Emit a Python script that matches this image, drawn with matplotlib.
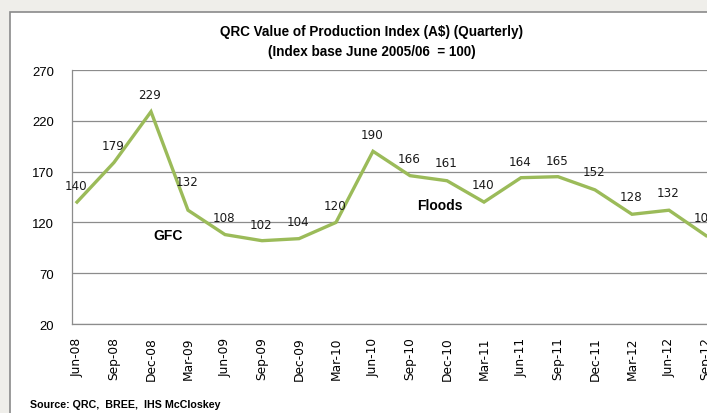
import matplotlib
matplotlib.use("Agg")
import matplotlib.pyplot as plt
from matplotlib.patches import Rectangle
from matplotlib import font_manager

quarters = ["Jun-08", "Sep-08", "Dec-08", "Mar-09", "Jun-09", "Sep-09", "Dec-09",
            "Mar-10", "Jun-10", "Sep-10", "Dec-10", "Mar-11", "Jun-11", "Sep-11",
            "Dec-11", "Mar-12", "Jun-12", "Sep-12"]
values = [140, 179, 229, 132, 108, 102, 104, 120, 190, 166, 161, 140, 164, 165,
          152, 128, 132, 107]
yticks = [20, 70, 120, 170, 220, 270]

# label offsets in points (dy)
label_dy = [12, 12, 12, 21, 12, 12, 12, 12, 12, 12, 13, 13, 12, 12, 13, 13, 13, 13]

names = {f.name for f in font_manager.fontManager.ttflist}
narrow = next((n for n in ["Liberation Sans Narrow", "DejaVu Sans Condensed",
                           "Liberation Sans"] if n in names), "DejaVu Sans")
narrow_scale = 1.0 if narrow != "Liberation Sans" else 0.9

W, H = 707, 414
fig = plt.figure(figsize=(W / 100, H / 100), dpi=100)
fig.patch.set_facecolor("#EFEEEA")

# white chart area with grey border
fig.patches.append(Rectangle((10 / W, -0.1), 1.2, 1 - 12.5 / H + 0.1,
                             transform=fig.transFigure, facecolor="white",
                             edgecolor="#8A8A8A", linewidth=1.2, zorder=-5))

left_px, right_px, top_px, bot_px = 72, 740, 71, 325
ax = fig.add_axes([left_px / W, 1 - bot_px / H, (right_px - left_px) / W,
                   (bot_px - top_px) / H])
ax.set_zorder(2)
ax.patch.set_alpha(0)
x = list(range(len(values)))
ax.plot(x, values, color="#9BBB59", linewidth=2.4, solid_joinstyle="miter", zorder=3)

x0_px, step_px = 77, 37
ax.set_xlim((left_px - x0_px) / step_px, (right_px - x0_px) / step_px)
ax.set_ylim(20, 270)
ax.set_yticks(yticks)
ax.set_yticklabels([str(v) for v in yticks], fontsize=10.5 * narrow_scale, family=narrow)
ax.set_xticks(x)
ax.set_xticklabels(quarters, rotation=90, fontsize=8.8, family="DejaVu Sans")
ax.tick_params(axis="both", length=0)
ax.tick_params(axis="y", pad=13)
ax.tick_params(axis="x", pad=9)
ax.grid(axis="y", color="#8C8C8C", linewidth=0.9)
ax.set_axisbelow(True)
for s in ["top", "right"]:
    ax.spines[s].set_visible(False)
for s in ["left", "bottom"]:
    ax.spines[s].set_color("#8C8C8C")
    ax.spines[s].set_linewidth(0.9)

for xi, v, dy in zip(x, values, label_dy):
    ax.annotate(str(v), (xi, v), xytext=(-1, dy), textcoords="offset points",
                ha="center", va="center", fontsize=8.6, family="DejaVu Sans",
                color="#1A1A1A", annotation_clip=False, zorder=4)

ax.annotate("GFC", (168 / W, 1 - 236 / H), xycoords="figure fraction",
            ha="center", va="center", fontsize=10, fontweight="bold",
            family="Liberation Sans")
ax.annotate("Floods", (440 / W, 1 - 206 / H), xycoords="figure fraction",
            ha="center", va="center", fontsize=10, fontweight="bold",
            family="Liberation Sans")

fig.text(372 / W, 1 - 32 / H, "QRC Value of Production Index (A$) (Quarterly)",
         ha="center", va="center", fontsize=10.8 * narrow_scale, fontweight="bold",
         family=narrow)
fig.text(372 / W, 1 - 52 / H, "(Index base June 2005/06  = 100)",
         ha="center", va="center", fontsize=10.8 * narrow_scale, fontweight="bold",
         family=narrow)
fig.text(30 / W, 1 - 405 / H, "Source: QRC,  BREE,  IHS McCloskey",
         ha="left", va="center", fontsize=8.5 * narrow_scale, fontweight="bold",
         family=narrow)

fig.savefig("out.png", dpi=100, facecolor=fig.get_facecolor())
